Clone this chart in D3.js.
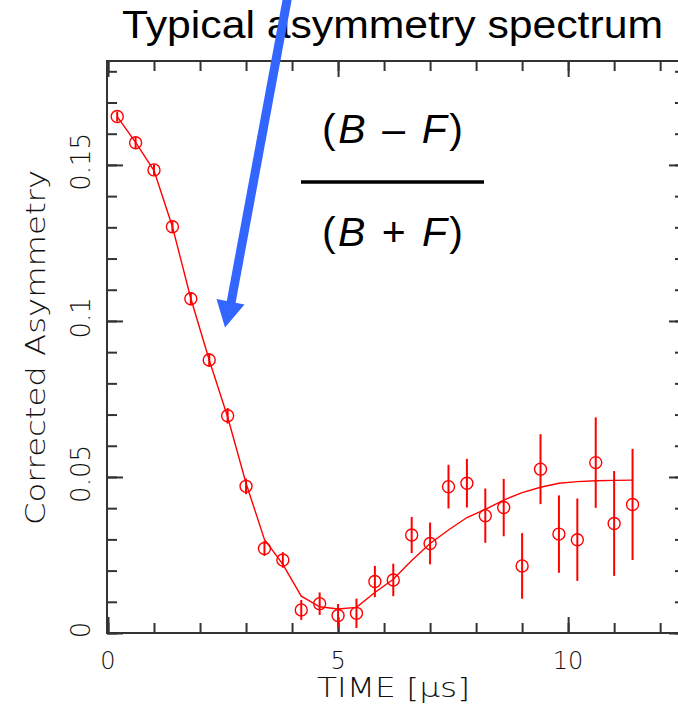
<!DOCTYPE html>
<html>
<head>
<meta charset="utf-8">
<script src="https://cdn.jsdelivr.net/npm/d3@7"></script>
<style>
  body { margin: 0; background: #fff; }
  svg { display: block; }
</style>
</head>
<body>
<div class="chart"></div>
<script>
var svgWidth = 678;
var svgHeight = 711;

// plot frame (right edge sits just outside the picture)
var frame = { left: 107, top: 61, right: 685, bottom: 633 };

// data
var times = [0.2, 0.6, 1.0, 1.4, 1.8, 2.2, 2.6, 3.0, 3.4, 3.8, 4.2, 4.6, 5.0, 5.4, 5.8,
  6.2, 6.6, 7.0, 7.4, 7.8, 8.2, 8.6, 9.0, 9.4, 9.8, 10.2, 10.6, 11.0, 11.4];
var asym = [0.1655, 0.1571, 0.1484, 0.1302, 0.1071, 0.0875, 0.0696, 0.0470, 0.0271, 0.0234,
  0.0074, 0.0094, 0.0056, 0.0063, 0.0165, 0.0170, 0.0314, 0.0287, 0.0469, 0.0480,
  0.0376, 0.0402, 0.0215, 0.0525, 0.0317, 0.0299, 0.0546, 0.0351, 0.0412];
var errs = [0.0016, 0.0018, 0.0018, 0.0019, 0.0021, 0.0022, 0.0025, 0.0025, 0.0024, 0.0025,
  0.0032, 0.0036, 0.0037, 0.0047, 0.0050, 0.0052, 0.0058, 0.0067, 0.0070, 0.0078,
  0.0087, 0.0092, 0.0105, 0.0112, 0.0124, 0.0132, 0.0145, 0.0168, 0.0178];
// fitted curve, evaluated at the same times
var fit = [0.1655, 0.1572, 0.1482, 0.1302, 0.1072, 0.0875, 0.0692, 0.0480, 0.0300, 0.0220,
  0.0118, 0.0084, 0.0077, 0.0082, 0.0130, 0.0172, 0.0232, 0.0287, 0.0330, 0.0370,
  0.0396, 0.0426, 0.0450, 0.0467, 0.0480, 0.0485, 0.0488, 0.0489, 0.0490];

var xMajor = [0, 5, 10];
var xMinor = d3.range(0, 13, 1);
var yMajor = [0, 0.05, 0.1, 0.15];
var yMinor = d3.range(0, 0.185, 0.01);
var yTickLabels = ["0", "0.05", "0.1", "0.15"];

var red = "#ff0000";
var axisColor = "#333";
var textColor = "#111";
var axisFont = "'DejaVu Sans', sans-serif";

var svg = d3.select(".chart")
  .append("svg")
  .attr("width", svgWidth)
  .attr("height", svgHeight);

svg.append("rect")
  .attr("width", svgWidth)
  .attr("height", svgHeight)
  .attr("fill", "#fff");

var xScale = d3.scaleLinear()
  .domain([0, 12.54])
  .range([frame.left + 1, frame.right]);

var yScale = d3.scaleLinear()
  .domain([0, 0.1833])
  .range([frame.bottom, frame.top]);

// inward ticks on all four sides
function tickAxis(axisFn, scale, values, size, transform) {
  var g = svg.append("g")
    .attr("transform", transform)
    .call(axisFn(scale).tickValues(values).tickSize(size).tickFormat(""));
  g.select(".domain").remove();
  g.selectAll("line").attr("stroke", axisColor).attr("stroke-width", 2);
  return g;
}
tickAxis(d3.axisBottom, xScale, xMinor, -10, `translate(0, ${frame.bottom})`);
tickAxis(d3.axisBottom, xScale, xMajor, -16, `translate(0, ${frame.bottom})`);
tickAxis(d3.axisTop, xScale, xMinor, -10, `translate(0, ${frame.top})`);
tickAxis(d3.axisTop, xScale, xMajor, -16, `translate(0, ${frame.top})`);
tickAxis(d3.axisLeft, yScale, yMinor, -10, `translate(${frame.left}, 0)`);
tickAxis(d3.axisLeft, yScale, yMajor, -16, `translate(${frame.left}, 0)`);
tickAxis(d3.axisRight, yScale, yMinor, -10, `translate(${frame.right}, 0)`);
tickAxis(d3.axisRight, yScale, yMajor, -16, `translate(${frame.right}, 0)`);

svg.append("rect")
  .attr("x", frame.left)
  .attr("y", frame.top)
  .attr("width", frame.right - frame.left)
  .attr("height", frame.bottom - frame.top)
  .attr("fill", "none")
  .attr("stroke", axisColor)
  .attr("stroke-width", 2);

// x tick labels
svg.selectAll(".xlab")
  .data(xMajor)
  .enter()
  .append("text")
  .attr("class", "xlab")
  .attr("x", d => xScale(d))
  .attr("y", 669)
  .attr("text-anchor", "middle")
  .attr("font-family", axisFont)
  .attr("font-weight", 200)
  .attr("font-size", 24)
  .attr("fill", textColor)
  .text(d => d);

// y tick labels, rotated
svg.selectAll(".ylab")
  .data(yMajor)
  .enter()
  .append("text")
  .attr("class", "ylab")
  .attr("transform", d => `translate(90, ${yScale(d) - 3}) rotate(-90)`)
  .attr("text-anchor", "middle")
  .attr("font-family", axisFont)
  .attr("font-weight", 200)
  .attr("font-size", 26)
  .attr("fill", textColor)
  .text((d, i) => yTickLabels[i]);

// axis titles
svg.append("text")
  .attr("x", 317)
  .attr("y", 697)
  .attr("textLength", 153)
  .attr("lengthAdjust", "spacingAndGlyphs")
  .attr("font-family", axisFont)
  .attr("font-weight", 200)
  .attr("font-size", 26)
  .attr("fill", textColor)
  .text("TIME [\u03bcs]");

svg.append("text")
  .attr("transform", "translate(45, 525) rotate(-90)")
  .attr("textLength", 355)
  .attr("lengthAdjust", "spacingAndGlyphs")
  .attr("font-family", axisFont)
  .attr("font-weight", 200)
  .attr("font-size", 27)
  .attr("fill", textColor)
  .text("Corrected Asymmetry");

// fitted curve
var line = d3.line()
  .x(d => xScale(d[0]))
  .y(d => yScale(d[1]));

svg.append("path")
  .datum(times.map((t, i) => [t, fit[i]]))
  .attr("d", line)
  .attr("fill", "none")
  .attr("stroke", red)
  .attr("stroke-width", 1.4);

// error bars
svg.selectAll(".err")
  .data(times)
  .enter()
  .append("line")
  .attr("class", "err")
  .attr("x1", d => xScale(d))
  .attr("x2", d => xScale(d))
  .attr("y1", (d, i) => yScale(asym[i] - errs[i]))
  .attr("y2", (d, i) => yScale(asym[i] + errs[i]))
  .attr("stroke", red)
  .attr("stroke-width", 2);

// open circles
svg.selectAll(".pt")
  .data(times)
  .enter()
  .append("circle")
  .attr("class", "pt")
  .attr("cx", d => xScale(d))
  .attr("cy", (d, i) => yScale(asym[i]))
  .attr("r", 6)
  .attr("fill", "none")
  .attr("stroke", red)
  .attr("stroke-width", 1.4);

// formula
var mathFont = "'Liberation Sans', Arial, sans-serif";
function fraction(y, op) {
  var t = svg.append("text")
    .attr("x", 322)
    .attr("y", y)
    .attr("textLength", 141)
    .attr("lengthAdjust", "spacing")
    .attr("font-family", mathFont)
    .attr("font-size", 41)
    .attr("fill", "#000");
  t.append("tspan").text("(");
  t.append("tspan").attr("font-style", "italic").text("B");
  t.append("tspan").text(op);
  t.append("tspan").attr("font-style", "italic").text("F");
  t.append("tspan").text(")");
}
fraction(143, " \u2013 ");
fraction(246, " + ");
svg.append("line")
  .attr("x1", 301)
  .attr("x2", 484)
  .attr("y1", 182)
  .attr("y2", 182)
  .attr("stroke", "#000")
  .attr("stroke-width", 3.5);

// title
svg.append("text")
  .attr("x", 122)
  .attr("y", 38)
  .attr("textLength", 541)
  .attr("lengthAdjust", "spacingAndGlyphs")
  .attr("font-family", mathFont)
  .attr("font-size", 38)
  .attr("fill", "#000")
  .text("Typical asymmetry spectrum");

// blue arrow pointing at the curve
var arrowBlue = "#3366ff";
svg.append("line")
  .attr("x1", 288)
  .attr("y1", -5)
  .attr("x2", 231)
  .attr("y2", 303)
  .attr("stroke", arrowBlue)
  .attr("stroke-width", 9);
svg.append("path")
  .attr("d", "M216.5,299 L244.5,304.5 L225,327.5 Z")
  .attr("fill", arrowBlue);
</script>
</body>
</html>
